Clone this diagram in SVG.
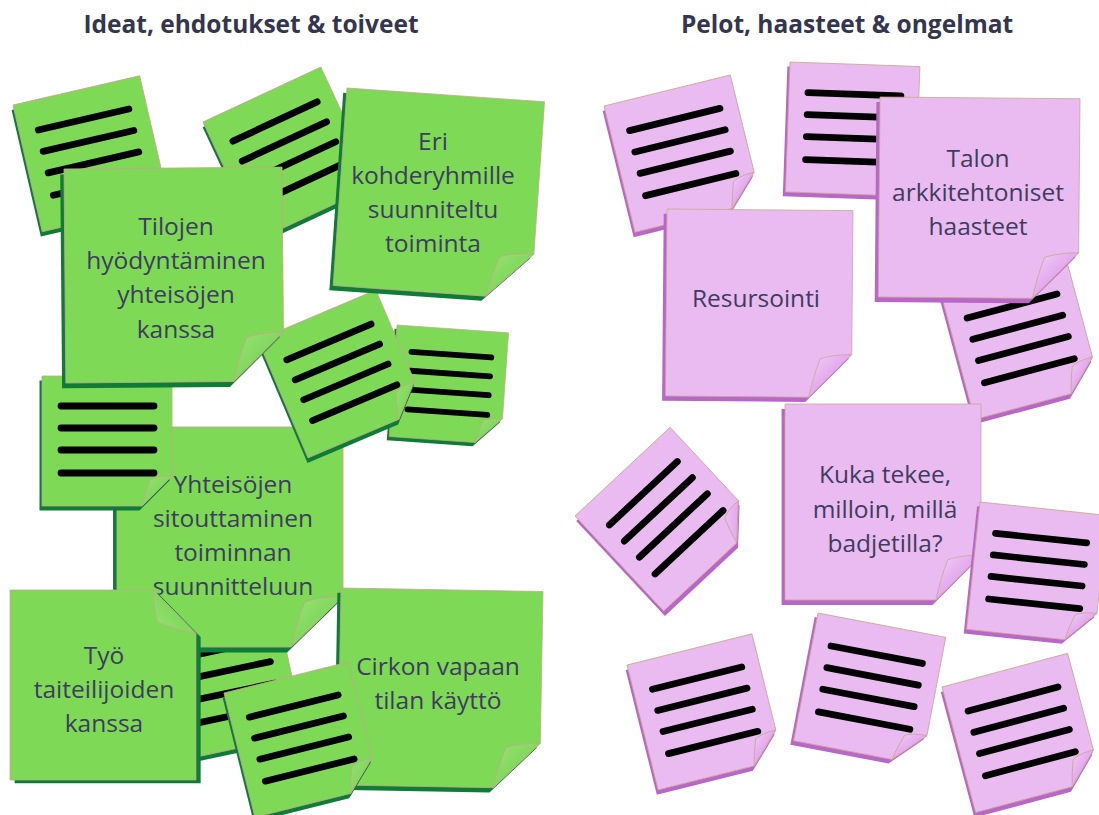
<svg xmlns="http://www.w3.org/2000/svg" width="1099" height="815" viewBox="0 0 1099 815">
<style>
.gsh{fill:#0e7b36}
.gbody{fill:#7ed957;stroke:#c6a58c;stroke-width:0.8}
.gflap{fill:url(#gfold);stroke:#c6a58c;stroke-width:0.8}
.psh{fill:#b866c8}
.pbody{fill:#e9bbf0;stroke:#c9a58e;stroke-width:0.8}
.pflap{fill:url(#pfold);stroke:#c9a58e;stroke-width:0.8}
.lines{fill:none;stroke:#000;stroke-width:6.8;stroke-linecap:round}
.title{font-family:"Open Sans","Liberation Sans",sans-serif;font-weight:bold;font-size:24.5px;fill:#34354f;text-anchor:middle}
.t{font-family:"Open Sans","Liberation Sans",sans-serif;font-size:24.5px;fill:#3e3c5f;text-anchor:middle}
</style>
<defs>
<linearGradient id="gfold" x1="0" y1="0" x2="1" y2="1"><stop offset="0" stop-color="#95e472"/><stop offset="1" stop-color="#70cc4c"/></linearGradient>
<linearGradient id="pfold" x1="0" y1="0" x2="1" y2="1"><stop offset="0" stop-color="#f2d3f7"/><stop offset="0.5" stop-color="#e3a8ee"/><stop offset="1" stop-color="#c475d4"/></linearGradient>
<g id="gL">
<path class="gsh" d="M-2.5,4.5 H127.5 V104.5 L97.5,134.5 H-2.5 Z"/>
<path class="gbody" d="M0,0 H130 V100 L100,130 H0 Z"/>
<path class="gflap" d="M130,100 C122,100 113,101 108,104 C105,112 102,121 100,130 Z"/>
<path class="lines" d="M19,30 H112 M19,52 H112 M19,74 H112 M19,97 H112"/>
</g>
<g id="pL">
<path class="psh" d="M-2.5,4.5 H127.5 V104.5 L97.5,134.5 H-2.5 Z"/>
<path class="pbody" d="M0,0 H130 V100 L100,130 H0 Z"/>
<path class="pflap" d="M130,100 C122,100 113,101 108,104 C105,112 102,121 100,130 Z"/>
<path class="lines" d="M19,30 H112 M19,52 H112 M19,74 H112 M19,97 H112"/>
</g>
<g id="gT">
<path class="gsh" d="M-3.5,5 H196.5 V159 L150.5,205 H-3.5 Z"/>
<path class="gbody" d="M0,0 H200 V154 L154,200 H0 Z"/>
<path class="gflap" d="M200,154 C188,154 174,156 166,159 C161,172 157,186 154,200 Z"/>
</g>
<g id="pT">
<path class="psh" d="M-3.5,5 H196.5 V159 L150.5,205 H-3.5 Z"/>
<path class="pbody" d="M0,0 H200 V154 L154,200 H0 Z"/>
<path class="pflap" d="M200,154 C188,154 174,156 166,159 C161,172 157,186 154,200 Z"/>
</g>
</defs>
<rect width="1099" height="815" fill="#ffffff"/>
<g id="titles">
<text class="title" x="251" y="33">Ideat, ehdotukset &amp; toiveet</text>
<text class="title" x="847" y="33">Pelot, haasteet &amp; ongelmat</text>
</g>
<g id="green-notes">
<g id="g-lines-a"><use href="#gL" transform="translate(13,105) rotate(-13)"/></g>
<g id="g-lines-b"><use href="#gL" transform="translate(203,122) rotate(-25)"/></g>
<g id="g-lines-f"><use href="#gL" transform="translate(397,325) rotate(4) scale(0.86,0.86)"/></g>
<g id="g-lines-i"><use href="#gL" transform="translate(150,634) rotate(-12)"/></g>
<g id="g-yhteisojen"><use href="#gT" transform="translate(117,427) scale(1.13,1.1)"/>
<text class="t" x="233" y="493">Yhteisöjen</text>
<text class="t" x="233" y="527">sitouttaminen</text>
<text class="t" x="233" y="561">toiminnan</text>
<text class="t" x="233" y="595">suunnitteluun</text></g>
<g id="g-lines-e"><use href="#gL" transform="translate(258,340) rotate(-23) scale(0.985)"/></g>
<g id="g-lines-g"><use href="#gL" transform="translate(42,376)"/></g>
<g id="g-eri"><use href="#gT" transform="translate(347,88) rotate(4) scale(0.99)"/>
<text class="t" x="433" y="150">Eri</text>
<text class="t" x="433" y="184">kohderyhmille</text>
<text class="t" x="433" y="218">suunniteltu</text>
<text class="t" x="433" y="252">toiminta</text></g>
<g id="g-tilojen"><use href="#gT" transform="translate(64,169) rotate(-0.5) scale(1.09,1.07)"/>
<text class="t" x="176" y="235">Tilojen</text>
<text class="t" x="176" y="269">hyödyntäminen</text>
<text class="t" x="176" y="303">yhteisöjen</text>
<text class="t" x="176" y="338">kanssa</text></g>
<g id="g-tyo"><use href="#gT" transform="translate(10,780) rotate(-90) scale(0.95,0.93)"/>
<text class="t" x="104" y="664">Työ</text>
<text class="t" x="104" y="698">taiteilijoiden</text>
<text class="t" x="104" y="732">kanssa</text></g>
<g id="g-cirkon"><use href="#gT" transform="translate(341,588) rotate(1) scale(1.01,0.985)"/>
<text class="t" x="438" y="675">Cirkon vapaan</text>
<text class="t" x="438" y="709">tilan käyttö</text></g>
<g id="g-lines-l"><use href="#gL" transform="translate(224,693) rotate(-14) scale(0.985)"/></g>
</g>
<g id="pink-notes">
<g id="p-lines-1"><use href="#pL" transform="translate(604,106) rotate(-13.8)"/></g>
<g id="p-lines-2"><use href="#pL" transform="translate(790,62) rotate(2)"/></g>
<g id="p-lines-3"><use href="#pL" transform="translate(941,294) rotate(-15)"/></g>
<g id="p-talon"><use href="#pT" transform="translate(880,97) rotate(0.5)"/>
<text class="t" x="978" y="167">Talon</text>
<text class="t" x="978" y="201">arkkitehtoniset</text>
<text class="t" x="978" y="235">haasteet</text></g>
<g id="p-resursointi"><use href="#pT" transform="translate(667,209) rotate(0.5) scale(0.93,0.935)"/>
<text class="t" x="756" y="307">Resursointi</text></g>
<g id="p-lines-6"><use href="#pL" transform="translate(575,516) rotate(-43)"/></g>
<g id="p-kuka"><use href="#pT" transform="translate(785,404) scale(0.98)"/>
<text class="t" x="885" y="483">Kuka tekee,</text>
<text class="t" x="885" y="518">milloin, millä</text>
<text class="t" x="885" y="552">badjetilla?</text></g>
<g id="p-lines-8"><use href="#pL" transform="translate(980,502) rotate(6) scale(0.985)"/></g>
<g id="p-lines-9"><use href="#pL" transform="translate(627,665) rotate(-14) scale(0.99)"/></g>
<g id="p-lines-10"><use href="#pL" transform="translate(818,613) rotate(10.8)"/></g>
<g id="p-lines-11"><use href="#pL" transform="translate(942,687) rotate(-15)"/></g>
</g>
</svg>
